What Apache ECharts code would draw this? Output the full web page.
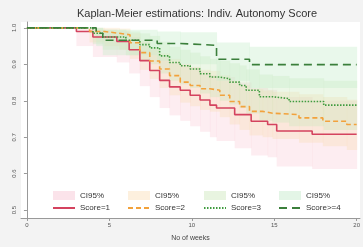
<!DOCTYPE html>
<html>
<head>
<meta charset="UTF-8">
<title>KM</title>
<script src="https://cdn.jsdelivr.net/npm/echarts@6/dist/echarts.min.js"></script>
<style>html,body{margin:0;padding:0;background:#f3f3f3;}</style>
</head>
<body>
<div id="main" style="width:363px;height:247px;"></div>
<script type="text/javascript">
// survival estimates (weeks, S(t), 95% CI)
var weeks1 = [0, 3.0, 4.0, 5.45, 6.2, 6.85, 7.45, 8.05, 8.65, 9.3, 9.9, 10.5, 11.1, 11.5, 12.6, 13.6, 14.6, 15.15, 17.3, 20];
var surv1  = [1, 0.99, 0.975, 0.963, 0.94, 0.91, 0.883, 0.856, 0.838, 0.829, 0.815, 0.802, 0.788, 0.78, 0.762, 0.744, 0.735, 0.717, 0.708, 0.708];
var lo1    = [1, 0.95, 0.92, 0.905, 0.875, 0.84, 0.81, 0.78, 0.76, 0.745, 0.73, 0.715, 0.70, 0.69, 0.67, 0.65, 0.645, 0.62, 0.613, 0.613];
var hi1    = [1, 1.0, 0.995, 0.99, 0.975, 0.96, 0.94, 0.92, 0.905, 0.9, 0.89, 0.88, 0.87, 0.865, 0.85, 0.835, 0.83, 0.81, 0.80, 0.80];

var weeks2 = [0, 3.8, 4.7, 5.6, 6.25, 6.85, 7.45, 8.05, 8.65, 9.3, 9.9, 10.5, 11.1, 11.7, 12.3, 12.9, 13.5, 14.3, 14.9, 16.5, 17.95, 19.4, 20];
var surv2  = [1, 0.99, 0.985, 0.981, 0.959, 0.932, 0.909, 0.887, 0.869, 0.851, 0.842, 0.833, 0.829, 0.815, 0.798, 0.784, 0.771, 0.766, 0.762, 0.753, 0.744, 0.735, 0.735];
var lo2    = [1, 0.96, 0.95, 0.94, 0.915, 0.885, 0.86, 0.835, 0.815, 0.795, 0.785, 0.775, 0.77, 0.755, 0.735, 0.72, 0.705, 0.7, 0.695, 0.685, 0.675, 0.665, 0.665];
var hi2    = [1, 1.0, 1.0, 0.998, 0.985, 0.965, 0.945, 0.93, 0.915, 0.9, 0.893, 0.885, 0.882, 0.87, 0.855, 0.843, 0.832, 0.828, 0.825, 0.818, 0.81, 0.803, 0.803];

var weeks3 = [0, 4.0, 4.6, 6.0, 6.85, 7.45, 8.05, 8.65, 9.3, 9.9, 10.5, 11.1, 11.7, 12.3, 12.9, 13.3, 14.1, 14.9, 15.9, 18.0, 20];
var surv3  = [1, 0.985, 0.975, 0.966, 0.954, 0.945, 0.923, 0.905, 0.896, 0.887, 0.874, 0.865, 0.86, 0.851, 0.842, 0.829, 0.811, 0.806, 0.798, 0.788, 0.788];
var lo3    = [1, 0.955, 0.94, 0.925, 0.91, 0.9, 0.875, 0.855, 0.845, 0.835, 0.82, 0.81, 0.8, 0.79, 0.78, 0.765, 0.745, 0.74, 0.73, 0.72, 0.72];
var hi3    = [1, 1.0, 0.995, 0.99, 0.985, 0.978, 0.962, 0.948, 0.94, 0.932, 0.922, 0.915, 0.91, 0.903, 0.897, 0.886, 0.872, 0.868, 0.862, 0.855, 0.855];

var weeks4 = [0, 4.2, 4.6, 7.9, 9.3, 11.5, 13.5, 20];
var surv4  = [1, 0.985, 0.966, 0.957, 0.952, 0.914, 0.899, 0.899];
var lo4    = [1, 0.95, 0.925, 0.91, 0.9, 0.855, 0.835, 0.835];
var hi4    = [1, 1.0, 0.995, 0.99, 0.988, 0.96, 0.948, 0.948];

var yTicks = [0.5, 0.6, 0.7, 0.8, 0.9, 1.0];
var xTicks = [0, 5, 10, 15, 20];
var ciNames = ['ci1', 'ci2', 'ci3', 'ci4'];
var scoreNames = ['Score=1', 'Score=2', 'Score=3', 'Score>=4'];

var groups = [
  { w: weeks1, s: surv1, lo: lo1, hi: hi1, line: '#d4435f', type: 'solid', band: 'rgba(248,195,210,0.30)', sw: '#fbe3ea' },
  { w: weeks2, s: surv2, lo: lo2, hi: hi2, line: '#f2a23c', type: [5, 3], band: 'rgba(250,218,175,0.32)', sw: '#fdf0de' },
  { w: weeks3, s: surv3, lo: lo3, hi: hi3, line: '#3f9b3f', type: [1.5, 1.5], band: 'rgba(200,232,185,0.35)', sw: '#e8f4e0' },
  { w: weeks4, s: surv4, lo: lo4, hi: hi4, line: '#3b7f3b', type: [8, 5], band: 'rgba(200,238,205,0.40)', sw: '#e3f5e6' }
];

function pairs(xs, ys) {
  return xs.map(function (x, i) { return [x, ys[i]]; });
}

// one rectangle per step: [x from, x to, lower, upper]
function steps(g) {
  var out = [];
  for (var i = 0; i < g.w.length - 1; i++) {
    out.push([g.w[i], g.w[i + 1], g.lo[i], g.hi[i]]);
  }
  return out;
}

var series = [];
groups.forEach(function (g, k) {
  series.push({
    name: ciNames[k], type: 'custom', color: g.sw, silent: true,
    encode: { x: [0, 1], y: [2, 3] },
    data: steps(g),
    renderItem: function (params, api) {
      var p0 = api.coord([api.value(0), api.value(3)]);
      var p1 = api.coord([api.value(1), api.value(2)]);
      return {
        type: 'rect',
        shape: { x: p0[0], y: p0[1], width: p1[0] - p0[0] + 0.5, height: p1[1] - p0[1] },
        style: { fill: g.band }
      };
    }
  });
});
groups.forEach(function (g, k) {
  series.push({
    name: scoreNames[k], type: 'line', step: 'end', z: 5,
    data: pairs(g.w, g.s), symbol: 'none', color: g.line,
    lineStyle: { color: g.line, width: 1.6, type: g.type }
  });
});

var legends = [47, 122, 198, 273].map(function (x, k) {
  return {
    orient: 'vertical', left: x, top: 186, itemGap: 4,
    itemWidth: 22, itemHeight: 9,
    textStyle: { fontSize: 8, color: '#333', fontFamily: 'Liberation Sans' },
    formatter: function (n) { return n.indexOf('ci') === 0 ? 'CI95%' : n; },
    data: [
      { name: ciNames[k], icon: 'rect', itemStyle: { color: groups[k].sw } },
      { name: scoreNames[k], itemStyle: { opacity: 0 } }
    ]
  };
});

var myChart = echarts.init(document.getElementById('main'));
myChart.setOption({
  animation: false,
  backgroundColor: '#f3f3f3',
  title: {
    text: 'Kaplan-Meier estimations: Indiv. Autonomy Score',
    left: 192, top: 3, textAlign: 'center',
    textStyle: { fontSize: 11, fontWeight: 'normal', color: '#333', fontFamily: 'Liberation Sans' }
  },
  legend: legends,
  grid: { left: 21, right: 3, top: 22, bottom: 25, show: true, backgroundColor: '#fff', borderWidth: 0 },
  xAxis: {
    type: 'value', min: -0.36, max: 20.2,
    name: 'No of weeks', nameLocation: 'middle', nameGap: 17,
    nameTextStyle: { fontSize: 7, color: '#444', fontFamily: 'Liberation Sans' },
    splitLine: { show: false },
    axisLine: { lineStyle: { color: '#999' } },
    axisTick: { length: 3, customValues: xTicks, lineStyle: { color: '#999' } },
    axisLabel: { customValues: xTicks, fontSize: 6, color: '#555', margin: 4 }
  },
  yAxis: {
    type: 'value', min: 0.4785, max: 1.016,
    splitLine: { show: false },
    axisLine: { show: true, lineStyle: { color: '#999' } },
    axisTick: { show: true, length: 3, customValues: yTicks, lineStyle: { color: '#999' } },
    axisLabel: {
      customValues: yTicks, fontSize: 6, color: '#555', rotate: 90, margin: 4,
      formatter: function (v) { return v.toFixed(1); }
    }
  },
  series: series
});
</script>
</body>
</html>
